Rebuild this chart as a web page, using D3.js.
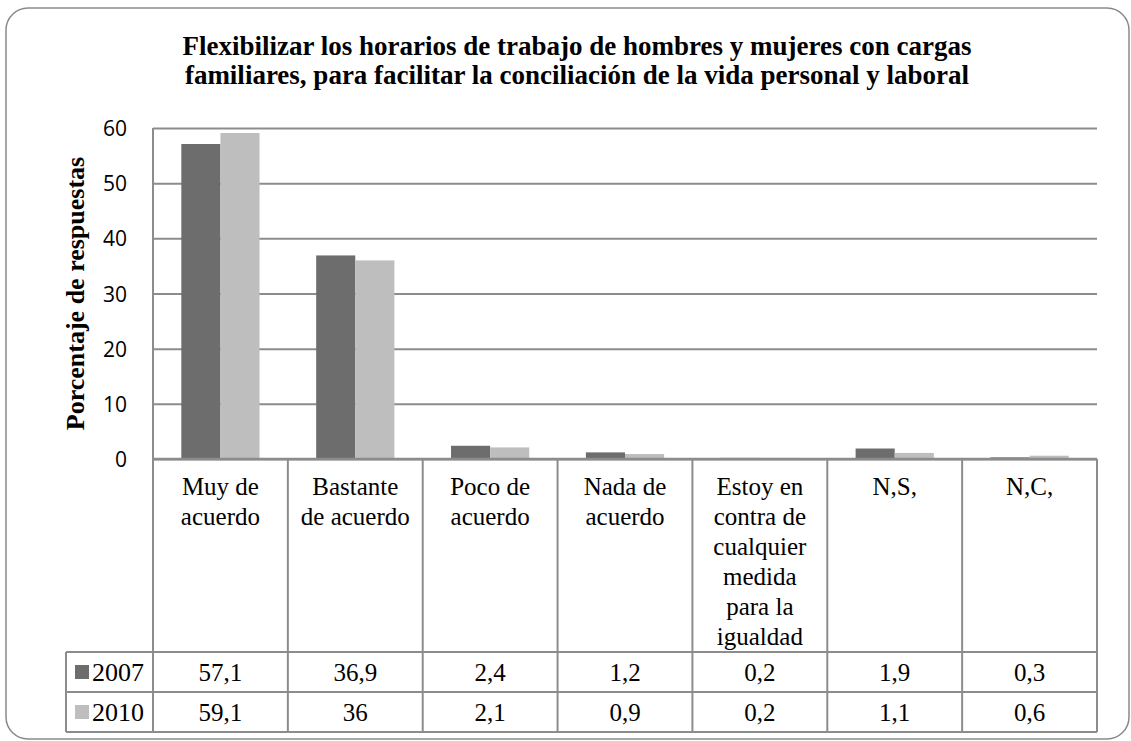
<!DOCTYPE html>
<html>
<head>
<meta charset="utf-8">
<script src="https://d3js.org/d3.v7.min.js"></script>
<style>
  body { margin: 0; background: #fff; }
  svg { display: block; }
  .serif { font-family: "Liberation Serif", "Times New Roman", serif; fill: #000; }
  .tick text { font-family: "Open Sans", "Liberation Sans", sans-serif; font-size: 21px; fill: #000; }
</style>
</head>
<body>
<svg id="chart" width="1131" height="741"></svg>
<script>
// data
const categories = ["Muy de acuerdo", "Bastante de acuerdo", "Poco de acuerdo", "Nada de acuerdo",
  "Estoy en contra de cualquier medida para la igualdad", "N,S,", "N,C,"];
const categoryLines = [
  ["Muy de", "acuerdo"],
  ["Bastante", "de acuerdo"],
  ["Poco de", "acuerdo"],
  ["Nada de", "acuerdo"],
  ["Estoy en", "contra de", "cualquier", "medida", "para la", "igualdad"],
  ["N,S,"],
  ["N,C,"]
];
const series = ["2007", "2010"];
const values2007 = [57.1, 36.9, 2.4, 1.2, 0.2, 1.9, 0.3];
const values2010 = [59.1, 36, 2.1, 0.9, 0.2, 1.1, 0.6];
const yTicks = [0, 10, 20, 30, 40, 50, 60];
const colors = ["#6d6d6d", "#bebebe"];
const titleLines = [
  "Flexibilizar los horarios de trabajo de hombres y mujeres con cargas",
  "familiares, para facilitar la conciliación de la vida personal y laboral"
];

const svg = d3.select("#chart");
const lineColor = "#8c8c8c";

// plot area
const plotLeft = 153, plotRight = 1097, plotTop = 128, plotBottom = 459;
const rowTop = 652, rowH = 40, legendLeft = 66;

const data = categories.map((c, i) => ({ cat: c, vals: [values2007[i], values2010[i]] }));

const y = d3.scaleLinear().domain([0, 60]).range([plotBottom, plotTop]);
const xCol = d3.scaleBand().domain(categories).range([plotLeft, plotRight]);
const x0 = d3.scaleBand().domain(categories).range([plotLeft, plotRight]).paddingInner(0.42).paddingOuter(0.21);
const x1 = d3.scaleBand().domain(series).range([0, x0.bandwidth()]);

// outer rounded frame
svg.append("rect")
  .attr("x", 6).attr("y", 8).attr("width", 1123).attr("height", 731)
  .attr("rx", 22).attr("ry", 22)
  .attr("fill", "#fff").attr("stroke", "#8a8a8a").attr("stroke-width", 1.5);

// title
svg.append("text").attr("class", "serif")
  .attr("text-anchor", "middle").attr("font-weight", "bold").attr("font-size", 27)
  .selectAll("tspan").data(titleLines).join("tspan")
  .attr("x", 577).attr("y", (d, i) => 55 + i * 29)
  .text(d => d);

// gridlines + y axis
const yAxis = svg.append("g")
  .attr("transform", `translate(${plotLeft},0)`)
  .call(d3.axisLeft(y).tickValues(yTicks).tickSize(-(plotRight - plotLeft)).tickPadding(26));
yAxis.select(".domain").remove();
yAxis.selectAll(".tick line").attr("stroke", lineColor).attr("stroke-width", 2);
yAxis.selectAll(".tick text").attr("dy", "0.36em");

// vertical axis line
svg.append("line")
  .attr("x1", plotLeft).attr("x2", plotLeft).attr("y1", plotTop).attr("y2", plotBottom)
  .attr("stroke", lineColor).attr("stroke-width", 2);

// y axis title
svg.append("text").attr("class", "serif")
  .attr("transform", `translate(84,${(plotTop + plotBottom) / 2}) rotate(-90)`)
  .attr("text-anchor", "middle").attr("font-weight", "bold").attr("font-size", 26)
  .text("Porcentaje de respuestas");

// bars
const groups = svg.append("g").selectAll("g").data(data).join("g")
  .attr("transform", d => `translate(${x0(d.cat)},0)`);
groups.selectAll("rect")
  .data(d => d.vals.map((v, i) => ({ s: series[i], v: v, c: colors[i] })))
  .join("rect")
  .attr("x", d => x1(d.s))
  .attr("width", x1.bandwidth())
  .attr("y", d => y(d.v))
  .attr("height", d => y(0) - y(d.v))
  .attr("fill", d => d.c);

// baseline
svg.append("line")
  .attr("x1", plotLeft).attr("x2", plotRight).attr("y1", plotBottom).attr("y2", plotBottom)
  .attr("stroke", lineColor).attr("stroke-width", 2.5);

// data table
const table = svg.append("g");
const tableBottom = rowTop + rowH * series.length;

// category columns (vertical lines)
const colEdges = categories.map(c => xCol(c)).concat([plotRight]);
table.selectAll("line.v").data(colEdges).join("line")
  .attr("x1", d => d).attr("x2", d => d)
  .attr("y1", plotBottom).attr("y2", tableBottom)
  .attr("stroke", lineColor).attr("stroke-width", 2);

// legend column left edge
table.append("line")
  .attr("x1", legendLeft).attr("x2", legendLeft)
  .attr("y1", rowTop).attr("y2", tableBottom)
  .attr("stroke", lineColor).attr("stroke-width", 2);

// horizontal row lines
table.selectAll("line.h").data(d3.range(series.length + 1)).join("line")
  .attr("x1", legendLeft).attr("x2", plotRight)
  .attr("y1", i => rowTop + i * rowH).attr("y2", i => rowTop + i * rowH)
  .attr("stroke", lineColor).attr("stroke-width", 2);

// category labels
table.selectAll("text.cat").data(categories).join("text")
  .attr("class", "serif").attr("text-anchor", "middle").attr("font-size", 25)
  .each(function (c, i) {
    d3.select(this).selectAll("tspan").data(categoryLines[i]).join("tspan")
      .attr("x", xCol(c) + xCol.bandwidth() / 2)
      .attr("y", (d, j) => 495 + j * 30)
      .text(d => d);
  });

// value rows
const fmt = v => String(v).replace(".", ",");
series.forEach((s, si) => {
  const vals = si === 0 ? values2007 : values2010;
  const cy = rowTop + si * rowH + rowH / 2;
  table.append("rect")
    .attr("x", 75).attr("y", cy - 7).attr("width", 14).attr("height", 14)
    .attr("fill", colors[si]);
  table.append("text").attr("class", "serif").attr("font-size", 26)
    .attr("x", 92).attr("y", cy + 9).text(s);
  table.selectAll(null).data(categories).join("text")
    .attr("class", "serif").attr("text-anchor", "middle").attr("font-size", 25)
    .attr("x", c => xCol(c) + xCol.bandwidth() / 2)
    .attr("y", cy + 9)
    .text((c, i) => fmt(vals[i]));
});
</script>
</body>
</html>
